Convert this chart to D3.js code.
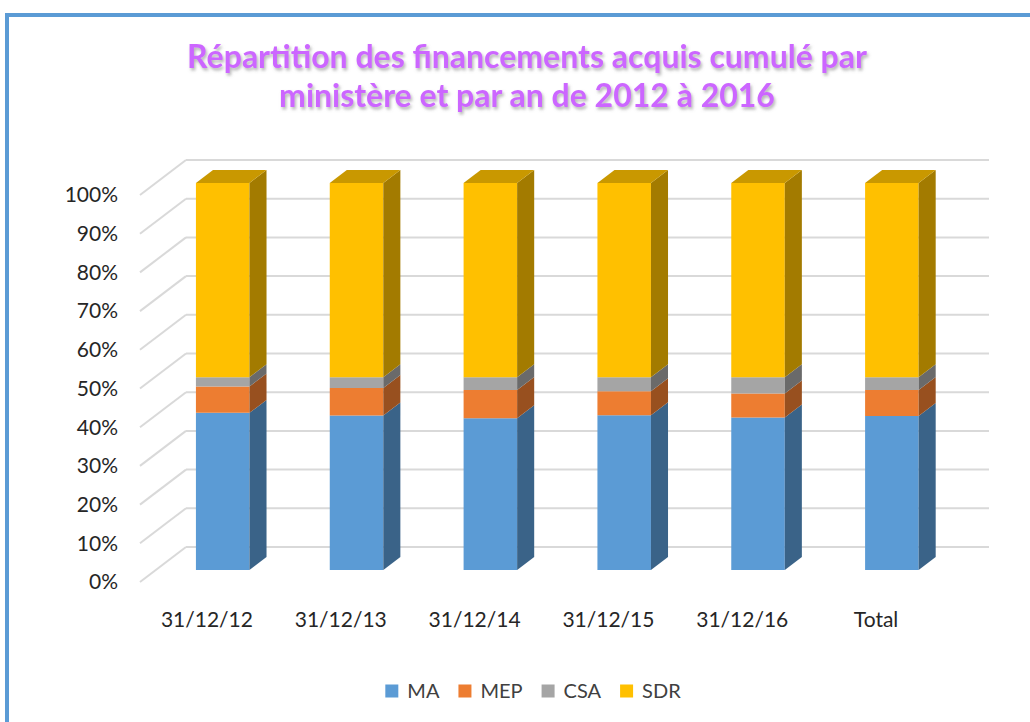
<!DOCTYPE html>
<html>
<head>
<meta charset="utf-8">
<script src="https://cdn.jsdelivr.net/npm/d3@7"></script>
<style>
  html, body { margin: 0; padding: 0; background: #fff; }
  svg { display: block; font-family: Lato, "Open Sans", sans-serif; }
</style>
</head>
<body>
<svg id="chart" width="1030" height="722"></svg>
<script>
// données (en %)
const categories = ["31/12/12", "31/12/13", "31/12/14", "31/12/15", "31/12/16", "Total"];
const seriesNames = ["MA", "MEP", "CSA", "SDR"];
const MA  = [40.6, 39.9, 39.2, 40.0, 39.4, 39.8];
const MEP = [6.8, 7.1, 7.3, 6.2, 6.2, 6.7];
const CSA = [2.4, 2.8, 3.3, 3.6, 4.2, 3.3];
const SDR = [50.2, 50.2, 50.2, 50.2, 50.2, 50.2];
const yTicks = [0, 10, 20, 30, 40, 50, 60, 70, 80, 90, 100];
const titleLines = ["Répartition des financements acquis cumulé par", "ministère et par an de 2012 à 2016"];
const seriesColors = ["#5b9bd5", "#ed7d31", "#a5a5a5", "#ffc000"];

const width = 1030, height = 722;
const svg = d3.select("#chart");

// cadre bleu
svg.append("rect")
  .attr("x", 7).attr("y", 15)
  .attr("width", 1200).attr("height", 900)
  .attr("fill", "none")
  .attr("stroke", "#5b9bd5")
  .attr("stroke-width", 4);

// ombre du titre
const defs = svg.append("defs");
defs.append("filter").attr("id", "shadow")
  .attr("x", "-5%").attr("y", "-30%").attr("width", "110%").attr("height", "160%")
  .append("feDropShadow")
  .attr("dx", 1.5).attr("dy", 2.5).attr("stdDeviation", 1.6)
  .attr("flood-color", "#777").attr("flood-opacity", 0.55);

const title = svg.append("text")
  .attr("text-anchor", "middle")
  .attr("font-weight", "bold")
  .attr("font-size", 32)
  .attr("fill", "#cc66ff")
  .attr("filter", "url(#shadow)");
title.selectAll("tspan").data(titleLines).enter().append("tspan")
  .attr("x", 527)
  .attr("y", (d, i) => 68 + i * 39)
  .text(d => d);

// échelles (plan du fond)
const x = d3.scaleBand()
  .domain(categories)
  .range([186, 989])
  .paddingInner(0.6)
  .paddingOuter(0.3);
const y = d3.scaleLinear().domain([0, 100]).range([547, 160]);

// projection oblique : profondeur 0 = fond, 1 = plan avant de l'axe
const DX = -46, DY = 35;
const proj = (xb, v, d) => [xb + DX * d, y(v) + DY * d];
const dFront = 0.657, dBack = 0.286;

// grille
const grid = svg.append("g").attr("stroke", "#d9d9d9").attr("stroke-width", 2).attr("fill", "none");
grid.selectAll("line.back").data(yTicks).enter().append("line")
  .attr("x1", x.range()[0]).attr("x2", x.range()[1])
  .attr("y1", d => y(d)).attr("y2", d => y(d));
grid.selectAll("line.side").data(yTicks).enter().append("line")
  .attr("x1", x.range()[0]).attr("y1", d => y(d))
  .attr("x2", d => proj(x.range()[0], d, 1)[0])
  .attr("y2", d => proj(x.range()[0], d, 1)[1]);

// axe Y
svg.append("g").selectAll("text").data(yTicks).enter().append("text")
  .attr("x", 118)
  .attr("y", d => proj(x.range()[0], d, 1)[1])
  .attr("dy", "0.35em")
  .attr("text-anchor", "end")
  .attr("font-size", 21)
  .attr("fill", "#262626")
  .text(d => d + "%");

// empilement
const table = categories.map((c, i) => ({ cat: c, MA: MA[i], MEP: MEP[i], CSA: CSA[i], SDR: SDR[i] }));
const stacked = d3.stack().keys(seriesNames)(table);

const shade = (c, k) => {
  const r = d3.rgb(c);
  return d3.rgb(r.r * k, r.g * k, r.b * k).formatHex();
};
const poly = pts => pts.map(p => p.join(",")).join(" ");

const bars = svg.append("g");
categories.forEach((cat, ci) => {
  const x0 = x(cat), x1 = x(cat) + x.bandwidth();
  const g = bars.append("g");
  stacked.forEach((layer, si) => {
    const v0 = layer[ci][0], v1 = layer[ci][1];
    const col = seriesColors[si];
    // face avant
    g.append("polygon")
      .attr("points", poly([proj(x0, v0, dFront), proj(x1, v0, dFront), proj(x1, v1, dFront), proj(x0, v1, dFront)]))
      .attr("fill", col);
    // face latérale
    g.append("polygon")
      .attr("points", poly([proj(x1, v0, dFront), proj(x1, v0, dBack), proj(x1, v1, dBack), proj(x1, v1, dFront)]))
      .attr("fill", shade(col, 0.64));
    if (si === stacked.length - 1) {
      g.append("polygon")
        .attr("points", poly([proj(x0, v1, dFront), proj(x1, v1, dFront), proj(x1, v1, dBack), proj(x0, v1, dBack)]))
        .attr("fill", shade(col, 0.79));
    }
  });
});

// axe X
svg.append("g").selectAll("text").data(categories).enter().append("text")
  .attr("x", d => proj(x(d) + x.bandwidth() / 2, 0, 1)[0])
  .attr("y", 627)
  .attr("text-anchor", "middle")
  .attr("font-size", 21)
  .attr("fill", "#262626")
  .text(d => d);

// légende
const legend = svg.append("g").attr("font-size", 20).attr("fill", "#404040");
const items = legend.selectAll("g").data(seriesNames).enter().append("g");
items.append("rect").attr("width", 13).attr("height", 13).attr("y", -6.5)
  .attr("fill", (d, i) => seriesColors[i]);
items.append("text").attr("x", 22).attr("dy", "0.35em").text(d => d);
const widths = [];
items.each(function () {
  widths.push(this.querySelector("text").getComputedTextLength() + 22);
});
const gap = 19;
const total = d3.sum(widths) + gap * (widths.length - 1);
let cur = 533 - total / 2;
items.attr("transform", (d, i) => {
  const t = `translate(${cur},691)`;
  cur += widths[i] + gap;
  return t;
});
</script>
</body>
</html>
